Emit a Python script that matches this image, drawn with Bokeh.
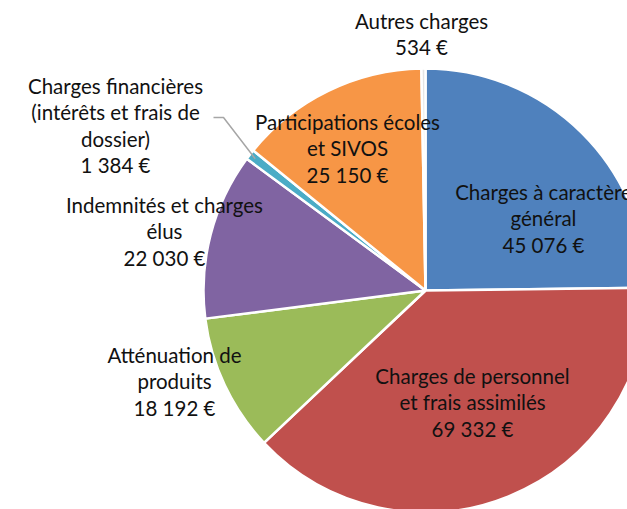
import math
from bokeh.plotting import figure
from bokeh.models import Range1d, ColumnDataSource
from bokeh.core.properties import value
from bokeh.embed import file_html
from bokeh.resources import INLINE

# ---- data (clockwise from 12 o'clock) ----
categories = [
    "Charges à caractère\ngénéral",
    "Charges de personnel\net frais assimilés",
    "Atténuation de\nproduits",
    "Indemnités et charges\nélus",
    "Charges financières\n(intérêts et frais de\ndossier)",
    "Participations écoles\net SIVOS",
    "Autres charges",
]
amounts = [45076, 69332, 18192, 22030, 1384, 25150, 534]
colors = ["#4F81BD", "#C0504D", "#9BBB59", "#8064A2", "#4BACC6", "#F79646", "#E4E4E4"]

# ---- layout (page pixel coords of label centres, first line y) ----
W, H = 627, 509
label_pos = [(543, 191), (472, 375), (174, 354), (164, 204), (115, 85), (347, 121), (421, 20)]
LINE = 26.6
CX, CY, R = 425, 290, 222


def px(x):
    return x


def py(y):
    return H - y


def fmt(v):
    return f"{v:,}".replace(",", " ") + " €"


p = figure(width=W, height=H, output_backend="svg", toolbar_location=None,
           x_range=Range1d(0, W), y_range=Range1d(0, H), min_border=0)
p.axis.visible = False
p.grid.visible = False
p.outline_line_color = None
p.background_fill_color = "white"
p.border_fill_color = "white"

total = sum(amounts)
starts, ends, mids = [], [], []
cum = 0.0
for a in amounts:
    s = cum / total * 2 * math.pi
    cum += a
    e = cum / total * 2 * math.pi
    starts.append(math.pi / 2 - e)
    ends.append(math.pi / 2 - s)
    mids.append(math.pi / 2 - (s + e) / 2)

src = ColumnDataSource(dict(start=starts, end=ends, color=colors))
p.wedge(x=px(CX), y=py(CY), radius=R, start_angle="start", end_angle="end",
        fill_color="color", line_color="white", line_width=2.5, source=src)

# leader line for Charges financières
i = 4
m = mids[i]
ex = px(CX) + R * 0.97 * math.cos(m)
ey = py(CY) + R * 0.97 * math.sin(m)
lx0, ly0 = px(213), py(117)
p.line([lx0, lx0 + 10, ex], [ly0, ly0, ey], line_color="#A6A6A6", line_width=1.5)

xs, ys, txt = [], [], []
for cat, amt, (x, y) in zip(categories, amounts, label_pos):
    lines = cat.split("\n") + [fmt(amt)]
    for k, ln in enumerate(lines):
        xs.append(px(x))
        ys.append(py(y + k * LINE))
        txt.append(ln)

p.text(x=xs, y=ys, text=txt, text_align="center", text_baseline="middle",
       text_font=value("Lato"), text_font_size="20.5px", text_color="#111111")

open("out.html", "w").write(file_html(p, INLINE))
